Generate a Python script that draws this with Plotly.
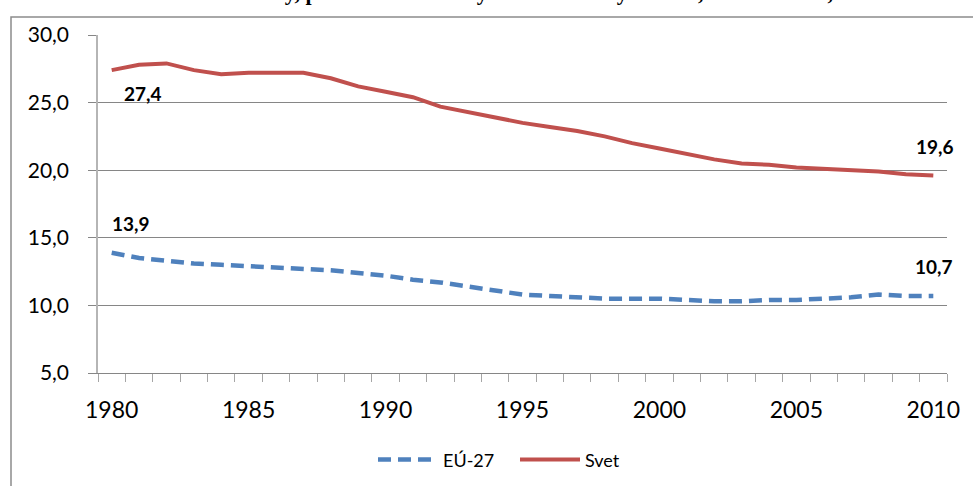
import plotly.graph_objects as go

years = list(range(1980, 2011))
eu27 = [13.9, 13.5, 13.3, 13.1, 13.0, 12.9, 12.8, 12.7, 12.6, 12.4, 12.2,
        11.9, 11.7, 11.4, 11.1, 10.8, 10.7, 10.6, 10.5, 10.5, 10.5,
        10.4, 10.3, 10.3, 10.4, 10.4, 10.5, 10.6, 10.8, 10.7, 10.7]
svet = [27.4, 27.8, 27.9, 27.4, 27.1, 27.2, 27.2, 27.2, 26.8, 26.2, 25.8,
        25.4, 24.7, 24.3, 23.9, 23.5, 23.2, 22.9, 22.5, 22.0, 21.6,
        21.2, 20.8, 20.5, 20.4, 20.2, 20.1, 20.0, 19.9, 19.7, 19.6]
series_names = ["EÚ-27", "Svet"]
y_ticks = [5, 10, 15, 20, 25, 30]
x_ticks = [1980, 1985, 1990, 1995, 2000, 2005, 2010]
title_text = "Graf 3 Hrubá miera natality, počet živonarodených na 1000 obyvateľov, EÚ-27 a svet, 1980 - 2010"

BLUE = "#4F81BD"
RED = "#C0504D"
FONT = "Lato"

fig = go.Figure()
fig.add_trace(go.Scatter(x=years, y=eu27, name=series_names[0], mode="lines",
                         line=dict(color=BLUE, width=4.5, dash="13px,7px")))
fig.add_trace(go.Scatter(x=years, y=svet, name=series_names[1], mode="lines",
                         line=dict(color=RED, width=4)))


def fmt(v):
    return f"{v:.1f}".replace(".", ",")


labels = [
    (years[0], svet[0], 31, -23),
    (years[0], eu27[0], 19, 29),
    (years[-1], svet[-1], 2, 29),
    (years[-1], eu27[-1], 1, 29),
]
for xv, yv, dx, dy in labels:
    fig.add_annotation(x=xv, y=yv, xref="x", yref="y", text=fmt(yv),
                       showarrow=False, xshift=dx, yshift=dy,
                       font=dict(family=FONT, size=19, color="black", weight="bold"))

# cropped title at the very top
fig.add_annotation(x=(486 - 98) / 849, y=1.0 + (35 - 7) / 338, xref="paper", yref="paper",
                   xanchor="center", yanchor="bottom", showarrow=False,
                   text="<b>" + title_text + "</b>",
                   font=dict(family="Liberation Serif", size=22, color="black"))

# outer chart frame
fig.add_shape(type="rect", xref="paper", yref="paper",
              x0=(11 - 98) / 849, x1=(980 - 98) / 849,
              y0=(373 - 495) / 338, y1=(373 - 17) / 338,
              line=dict(color="#8C8C8C", width=1.5), fillcolor="rgba(0,0,0,0)",
              layer="below")

fig.update_layout(
    width=973, height=486,
    margin=dict(l=98, r=26, t=35, b=113, autoexpand=False),
    paper_bgcolor="white", plot_bgcolor="white",
    separators=",.",
    showlegend=True,
    legend=dict(orientation="h", x=(373 - 98) / 849, xanchor="left", y=-0.257, yanchor="middle",
                font=dict(family=FONT, size=18, color="black"),
                bgcolor="rgba(0,0,0,0)", itemwidth=60, tracegroupgap=0,
                entrywidth=67, entrywidthmode="pixels"),
    font=dict(family=FONT, color="black"),
)
fig.update_xaxes(
    range=[1979.5, 2010.5], tickmode="array", tickvals=x_ticks,
    ticktext=[str(v) for v in x_ticks], ticks="", showgrid=False,
    showline=True, linecolor="#868686", linewidth=1,
    tickfont=dict(family=FONT, size=23, color="black"),
    minor=dict(tick0=1979.5, dtick=1, ticks="outside", ticklen=8,
               tickcolor="#A6A6A6", showgrid=False),
    zeroline=False, ticklabelstandoff=16, automargin=False,
)
fig.update_yaxes(
    range=[5, 30], tickmode="array", tickvals=y_ticks, tickformat=".1f",
    ticks="outside", ticklen=8, tickcolor="#868686",
    showgrid=True, gridcolor="#868686", gridwidth=1,
    showline=True, linecolor="#B5B5B5", linewidth=1.5,
    tickfont=dict(family=FONT, size=21, color="black"),
    zeroline=False, ticklabelstandoff=15, automargin=False,
)

fig.write_html("out.html", config={"displayModeBar": False},
               post_script="document.body.style.margin='0';")
